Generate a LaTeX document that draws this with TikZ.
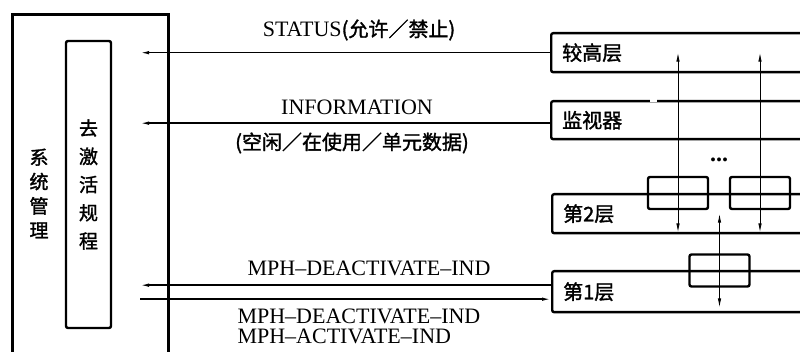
\documentclass[tikz,border=0pt]{standalone}
\usepackage{fontspec}
\setmainfont{Liberation Serif}
\newfontfamily\cjk{Noto Sans CJK SC}[FakeBold=1.6]
\usetikzlibrary{arrows.meta}

\begin{document}
\begin{tikzpicture}[
    x=1pt,y=-1pt,
    >={Latex[length=9pt,width=3.5pt]},
    font=\fontsize{22}{26}\selectfont,
    box/.style={draw,line width=2.4pt,rounded corners=2pt},
    layer/.style={box,anchor=north west,minimum height=39pt,text width=280pt,align=left,inner xsep=11pt,font=\cjk\fontsize{20}{24}\selectfont},
    sap/.style={box,minimum width=60pt,minimum height=32pt},
    arr/.style={->,line width=1.4pt},
    varr/.style={<->,line width=0.9pt}
]
\useasboundingbox (0,0) rectangle (800,352);
\clip (0,0) rectangle (800,352);

% system management side
\node[box,line width=2.8pt,rounded corners=0pt,anchor=north west,minimum width=156pt,minimum height=400pt] (sys) at (11,13) {};
\node[font=\cjk\fontsize{19}{24.3}\selectfont,align=center] (sysname) at (39,193.5) {系\\统\\管\\理};
\node[box,minimum width=45pt,minimum height=287pt,align=center,font=\cjk\fontsize{19}{28.2}\selectfont] (deact) at (88.5,184.5) {去\\激\\活\\规\\程};

% layers
\node[layer] (higher)  at (550,32)  {较高层};
\node[layer,minimum height=38pt] (monitor) at (550,100) {监视器};
\node[layer] (l2) at (551,193) {第2层};
\node[layer,minimum height=41pt] (l1) at (551,270) {第1层};
\draw[white,line width=3.5pt] (650,100) -- (657,100);
\node[sap] (sap1) at (678,193) {};
\node[sap] (sap2) at (760,193) {};
\node[sap] (sap3) at (719.5,270.5) {};
\node[font=\bfseries\fontsize{24}{26}\selectfont] (dots) at (719,160) {...};

\draw[varr] (sap1 |- higher.center) -- ([yshift=2pt]sap1 |- l2.south);
\draw[varr] (sap2 |- higher.center) -- ([yshift=2pt]sap2 |- l2.south);
\draw[varr] (sap3 |- l2.center) -- ([yshift=6pt]sap3 |- l1.south);

% primitives
\coordinate (tip) at (140,0);
\draw[arr] (higher.west) -- (higher.west -| tip);
\draw[arr] ([yshift=-3pt]monitor.west) -- ([yshift=-3pt]monitor.west -| tip);
\draw[arr] ([yshift=6.5pt]l1.west) -- ([yshift=6.5pt]l1.west -| tip);
\draw[arr] ([yshift=-7.5pt]l1.west -| tip) -- ([yshift=-7.5pt]l1.west);

\node (lbstat) at (359,30) {STATUS{\cjk\fontsize{20}{24}\selectfont(允许／禁止)}};
\node (lbinfo) at (357,107) {INFORMATION};
\node[font=\cjk\fontsize{20}{24}\selectfont] (lbidle) at (352,143) {(空闲／在使用／单元数据)};
\node (lbdeac) at (369,268) {MPH--DEACTIVATE--IND};
\node[anchor=west] (lbdeac2) at (234,316) {MPH--DEACTIVATE--IND};
\node[anchor=west] (lbact) at (234,336) {MPH--ACTIVATE--IND};
\end{tikzpicture}
\end{document}
